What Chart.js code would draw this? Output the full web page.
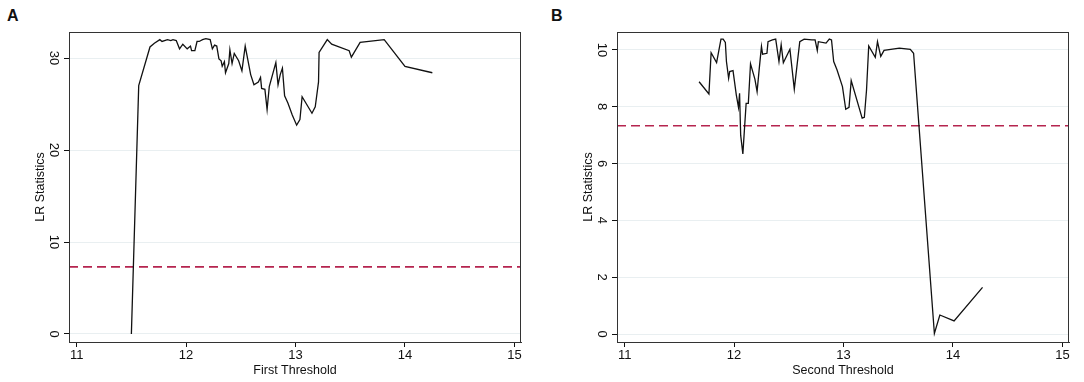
<!DOCTYPE html>
<html>
<head>
<meta charset="utf-8">
<script src="https://cdn.jsdelivr.net/npm/chart.js@4.4.1/dist/chart.umd.min.js"></script>
<style>
  body { margin: 0; background: #fff; width: 1084px; height: 382px; position: relative; overflow: hidden; }
  .panel { position: absolute; top: 0; height: 382px; }
  .tag { position: absolute; top: 7px; font: bold 16px "Liberation Sans", Arial, sans-serif; color: #111; }
</style>
</head>
<body>
<div class="tag" style="left:7px">A</div>
<div class="tag" style="left:551px">B</div>
<div class="panel" style="left:0; width:542px"><canvas id="chartA"></canvas></div>
<div class="panel" style="left:548px; width:536px"><canvas id="chartB"></canvas></div>

<script>
// panel A: first threshold
const thresholdA = [11.50, 11.567, 11.67, 11.71, 11.76, 11.78, 11.83, 11.86, 11.88, 11.91, 11.94, 11.97,
  12.01, 12.04, 12.05, 12.08, 12.10, 12.12, 12.15, 12.18, 12.22, 12.24, 12.26, 12.28, 12.30, 12.32,
  12.33, 12.35, 12.36, 12.39, 12.40, 12.42, 12.44, 12.48, 12.51, 12.54, 12.59, 12.62, 12.66, 12.68,
  12.69, 12.72, 12.74, 12.76, 12.82, 12.84, 12.86, 12.88, 12.90, 12.93, 12.97, 13.01, 13.04, 13.06,
  13.15, 13.18, 13.21, 13.215, 13.29, 13.33, 13.49, 13.51, 13.59, 13.81, 14.00, 14.25];
const lrA = [0, 27.0, 31.2, 31.6, 32.0, 31.8, 32.0, 31.9, 32.0, 31.9, 31.0, 31.5,
  31.0, 31.3, 30.8, 30.8, 31.8, 31.8, 32.0, 32.1, 32.0, 31.0, 31.4, 31.3, 29.9, 29.7,
  29.1, 29.6, 28.4, 29.4, 30.9, 29.4, 30.5, 29.7, 28.6, 31.3, 28.2, 27.1, 27.4, 27.9,
  26.7, 26.6, 24.4, 26.9, 29.5, 27.1, 28.2, 28.9, 25.9, 25.1, 23.8, 22.7, 23.3, 25.8,
  24.0, 24.7, 27.4, 30.6, 32.0, 31.5, 30.8, 30.1, 31.7, 32.0, 29.1, 28.4];
const criticalA = 7.3;
const yTicksA = [0, 10, 20, 30];

// panel B: second threshold
const thresholdB = [11.68, 11.77, 11.79, 11.84, 11.88, 11.90, 11.92, 11.93, 11.95, 11.96, 11.99, 12.02,
  12.04, 12.05, 12.06, 12.08, 12.11, 12.13, 12.15, 12.19, 12.21, 12.23, 12.25, 12.26, 12.30, 12.31,
  12.35, 12.38, 12.41, 12.43, 12.45, 12.51, 12.55, 12.60, 12.64, 12.71, 12.74, 12.76, 12.77, 12.84,
  12.87, 12.89, 12.91, 12.94, 12.99, 13.02, 13.05, 13.07, 13.17, 13.19, 13.21, 13.23, 13.29, 13.31,
  13.34, 13.37, 13.51, 13.61, 13.64, 13.83, 13.88, 14.01, 14.27];
const lrB = [8.88, 8.45, 9.90, 9.55, 10.38, 10.38, 10.26, 9.59, 9.00, 9.24, 9.27, 8.42,
  7.98, 8.47, 7.00, 6.34, 8.12, 8.12, 9.51, 8.97, 8.53, 9.35, 10.12, 9.85, 9.88, 10.29,
  10.35, 10.38, 9.59, 10.18, 9.55, 10.02, 8.62, 10.29, 10.38, 10.35, 10.35, 9.98, 10.29, 10.24,
  10.38, 10.35, 9.59, 9.30, 8.71, 7.91, 7.98, 8.92, 7.60, 7.63, 8.59, 10.14, 9.74, 10.29,
  9.77, 9.98, 10.06, 10.02, 9.88, 0.02, 0.67, 0.46, 1.64];
const criticalB = 7.33;
const yTicksB = [0, 2, 4, 6, 8, 10];

const xTicks = [11, 12, 13, 14, 15];
const xMin = 10.93, xMax = 15.06;

const FONT = '"Liberation Sans", Arial, sans-serif';
const INK = '#111';

// box round the plot area
const framePlugin = {
  id: 'frame',
  afterDraw(chart) {
    const a = chart.chartArea, ctx = chart.ctx;
    ctx.save();
    ctx.strokeStyle = '#333';
    ctx.lineWidth = 1;
    ctx.strokeRect(a.left + 0.5, a.top + 0.5, a.right - a.left - 1, a.bottom - a.top);
    ctx.restore();
  }
};

function makeChart(id, xs, ys, crit, yTicks, yMin, yMax, xTitle, padRight) {
  new Chart(document.getElementById(id), {
    type: 'line',
    data: {
      datasets: [
        {
          data: xs.map((x, i) => ({ x: x, y: ys[i] })),
          borderColor: INK,
          borderWidth: 1.3,
          pointRadius: 0,
          tension: 0
        },
        {
          data: [{ x: xMin, y: crit }, { x: xMax, y: crit }],
          borderColor: '#b5254f',
          borderWidth: 1.6,
          borderDash: [9, 5],
          pointRadius: 0
        }
      ]
    },
    options: {
      responsive: true,
      maintainAspectRatio: false,
      animation: false,
      layout: { padding: { left: 29, top: 32, right: padRight, bottom: 0 } },
      plugins: { legend: { display: false }, tooltip: { enabled: false } },
      scales: {
        x: {
          type: 'linear',
          min: xMin,
          max: xMax,
          afterBuildTicks: s => { s.ticks = xTicks.map(v => ({ value: v })); },
          afterFit: s => { s.height = 40; },
          grid: { drawOnChartArea: false, tickColor: INK, tickLength: 5 },
          border: { color: '#333' },
          ticks: { color: INK, font: { family: FONT, size: 13 }, padding: 1, maxRotation: 0 },
          title: { display: true, text: xTitle, color: INK, font: { family: FONT, size: 12.5 }, padding: { top: 0, bottom: 4 } }
        },
        y: {
          type: 'linear',
          min: yMin,
          max: yMax,
          afterBuildTicks: s => { s.ticks = yTicks.map(v => ({ value: v })); },
          afterFit: s => { s.width = 40; },
          grid: { color: '#e9eff1', lineWidth: 1, tickColor: INK, tickLength: 5 },
          border: { color: '#333' },
          ticks: { color: INK, font: { family: FONT, size: 13 }, padding: 3, minRotation: -90, maxRotation: 0, crossAlign: 'center' },
          title: { display: true, text: 'LR Statistics', color: INK, font: { family: FONT, size: 12.5 }, padding: { top: 4, bottom: 0 } }
        }
      }
    },
    plugins: [framePlugin]
  });
}

makeChart('chartA', thresholdA, lrA, criticalA, yTicksA, -0.87, 32.83, 'First Threshold', 21);
makeChart('chartB', thresholdB, lrB, criticalB, yTicksB, -0.28, 10.63, 'Second Threshold', 15);
</script>
</body>
</html>
